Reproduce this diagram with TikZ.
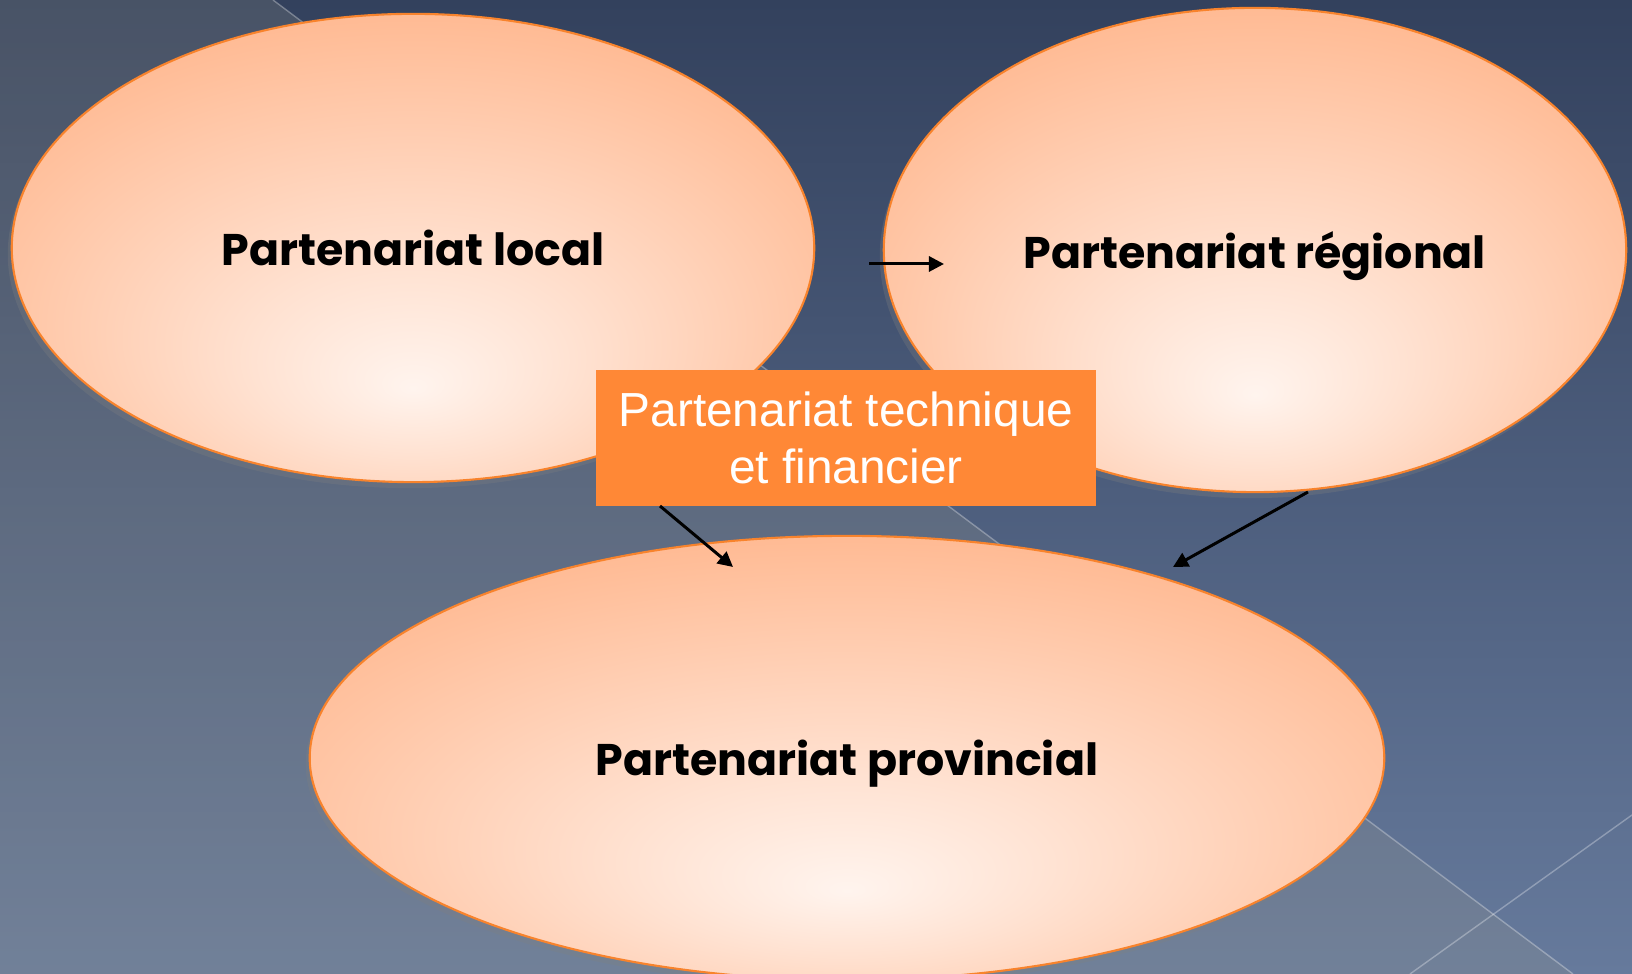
\documentclass[tikz,border=0pt]{standalone}
\usepackage{fontspec}
\setmainfont{Liberation Sans}
\newfontfamily\gothic{Poppins}
\usetikzlibrary{shapes.geometric,arrows.meta,shadows}
\definecolor{bgtop}{HTML}{33415D}
\definecolor{bgbot}{HTML}{667A9C}
\definecolor{tint}{HTML}{A09C8C}
\definecolor{peachlo}{HTML}{FFB890}
\definecolor{peachhi}{HTML}{FFF4EE}
\definecolor{peachline}{HTML}{F8832C}
\definecolor{boxorange}{HTML}{FF8836}
\pgfdeclareradialshading{peach}{\pgfpoint{0bp}{-15bp}}{color(0bp)=(peachhi); color(10bp)=(peachhi!70!peachlo); color(32bp)=(peachlo); color(50bp)=(peachlo)}

\begin{document}
\begin{tikzpicture}[x=0.01cm,y=-0.01cm,
  bulle/.style={ellipse,inner sep=0pt,draw=peachline,line width=0.6pt,shading=peach,
    drop shadow={opacity=0.3,shadow xshift=-0.4mm,shadow yshift=-0.6mm},
    font=\gothic\bfseries\fontsize{12.6}{15}\selectfont,text=black,text depth=0pt},
  boite/.style={rectangle,fill=boxorange,text=white,align=center,
    minimum width=5cm,minimum height=1.35cm,font=\fontsize{13.6}{16.3}\selectfont},
  fleche/.style={-{Triangle[length=1.5mm,width=1.5mm]},line width=0.85pt,black}]
\useasboundingbox (0,0) rectangle (1632,974);
\shade[top color=bgtop,bottom color=bgbot] (0,0) rectangle (1632,974);
\fill[tint,opacity=0.2] (0,0) -- (273,0) -- (1573,974) -- (0,974) -- cycle;
\draw[white,opacity=0.3,line width=0.4pt] (273,0) -- (1573,974);
\draw[white,opacity=0.3,line width=0.4pt] (1632,815) -- (1410,974);

\node[bulle,minimum width=8.02cm,minimum height=4.68cm] (local) at (413,248) {Partenariat local};
\node[bulle,minimum width=7.42cm,minimum height=4.84cm] (regional) at (1255,250) {Partenariat régional};
\node[bulle,minimum width=10.74cm,minimum height=4.44cm] (provincial) at (847,758) {Partenariat provincial};
\node[boite] (tf) at (846,438) {Partenariat technique\\et financier};

\coordinate (l1) at (869,264);
\coordinate (r1) at (944,264);
\coordinate (t1) at (660,506);
\coordinate (p1) at (733,567);
\coordinate (r2) at (1308,492);
\coordinate (p2) at (1173,567);
\draw[fleche] (l1) -- (r1);
\draw[fleche] (t1) -- (p1);
\draw[fleche] (r2) -- (p2);
\end{tikzpicture}
\end{document}
